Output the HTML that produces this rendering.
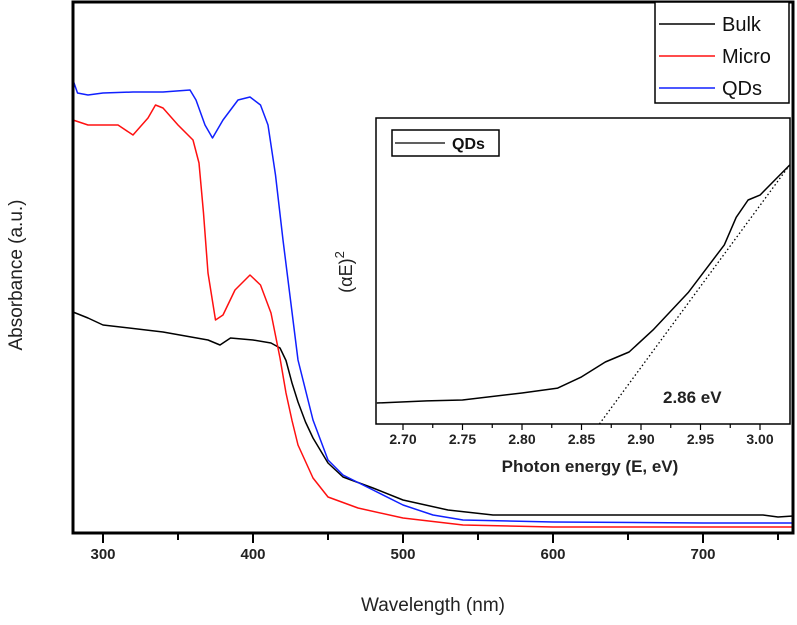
<!DOCTYPE html>
<html><head><meta charset="utf-8"><style>
body{margin:0;background:#fff;}
svg text{font-family:"Liberation Sans",Arial,sans-serif;}
</style></head><body>
<svg width="797" height="620" viewBox="0 0 797 620" xmlns="http://www.w3.org/2000/svg">
<g id="main"></g>
<g id="inset"></g>
</svg>
<script>
// main chart data (absorbance a.u.)
const wlBulk=[280,290,300,340,370,378,385,400,412,418,422,426,430,435,440,450,460,480,500,530,560,700,740,750,760];
const absBulk=[0.442,0.430,0.416,0.402,0.386,0.376,0.390,0.386,0.380,0.370,0.345,0.300,0.262,0.222,0.190,0.140,0.112,0.090,0.066,0.046,0.036,0.036,0.036,0.032,0.034];
const wlMicro=[280,290,300,310,320,330,335,340,350,360,364,367,370,375,380,388,398,405,412,418,422,426,430,440,450,470,500,540,600,760];
const absMicro=[0.826,0.816,0.816,0.816,0.796,0.830,0.856,0.850,0.816,0.786,0.740,0.640,0.520,0.426,0.436,0.486,0.516,0.496,0.440,0.350,0.280,0.225,0.176,0.110,0.072,0.050,0.030,0.016,0.012,0.012];
const wlQD=[280,283,290,300,320,340,358,362,368,373,380,390,398,405,410,415,420,425,430,440,450,460,480,500,520,540,600,700,760];
const absQD=[0.906,0.880,0.876,0.880,0.882,0.882,0.886,0.866,0.816,0.790,0.826,0.866,0.872,0.856,0.816,0.716,0.586,0.466,0.346,0.226,0.146,0.116,0.086,0.056,0.036,0.026,0.022,0.020,0.020];
const xTicks=[300,400,500,600,700];
// inset data
const eInset=[2.678,2.72,2.75,2.80,2.83,2.85,2.87,2.89,2.91,2.94,2.97,2.98,2.99,3.00,3.025];
const aInset=[0.069,0.076,0.079,0.102,0.118,0.155,0.204,0.237,0.309,0.434,0.589,0.680,0.737,0.753,0.852];
const fitE=[2.865,3.025];
const fitA=[0,0.852];
const insetTicks=["2.70","2.75","2.80","2.85","2.90","2.95","3.00"];

const NS="http://www.w3.org/2000/svg";
function mk(p,t,a){const e=document.createElementNS(NS,t);for(const k in a)e.setAttribute(k,a[k]);p.appendChild(e);return e;}
const main=document.getElementById('main'), ins=document.getElementById('inset');
const X=w=>73+(w-280)*1.5, Y=v=>533-v*500;
const IX=e=>403+(e-2.70)*1190, IY=v=>424-v*304;

function line(g,xs,ys,fx,fy,col,name,dash){
  const d=xs.map((x,i)=>(i?'L':'M')+fx(x).toFixed(1)+','+fy(ys[i]).toFixed(1)).join('');
  const p=mk(g,'path',{d:d,fill:'none',stroke:col,'stroke-width':1.5,'stroke-linejoin':'round'});
  if(dash){p.setAttribute('stroke-dasharray','1.5,2.5');p.setAttribute('stroke-width',1.3);}
  
  
}
line(main,wlBulk,absBulk,X,Y,'#000','bulk-line');
line(main,wlQD,absQD,X,Y,'#1020ff','qds-line');
line(main,wlMicro,absMicro,X,Y,'#ff1010','micro-line');

// main frame
const fr=mk(main,'rect',{x:73,y:2,width:720,height:531,fill:'none',stroke:'#000','stroke-width':3});

for(let w=300;w<=750;w+=50){const t=mk(main,'line',{x1:X(w),x2:X(w),y1:533,y2:w%100?540:543,stroke:'#000','stroke-width':2});}
xTicks.forEach(w=>{const t=mk(main,'text',{x:X(w),y:559,'text-anchor':'middle','font-size':15,fill:'#222','font-weight':'bold'});t.textContent=w;});
let t=mk(main,'text',{x:433,y:611,'text-anchor':'middle','font-size':19,fill:'#222'});t.textContent='Wavelength (nm)';
t=mk(main,'text',{x:0,y:0,'text-anchor':'middle','font-size':19,fill:'#222',transform:'translate(22,275) rotate(-90)'});t.textContent='Absorbance (a.u.)';

// legend
const lg=mk(main,'g',{});
mk(lg,'rect',{x:655,y:2,width:134,height:101,fill:'#fff',stroke:'#000','stroke-width':1.5});
[['Bulk','#000',24],['Micro','#ff1010',56],['QDs','#1020ff',88]].forEach(([n,c,y])=>{
  const g=mk(lg,'g',{});
  mk(g,'line',{x1:659,x2:715,y1:y,y2:y,stroke:c,'stroke-width':1.5});
  const tx=mk(g,'text',{x:722,y:y+7,'font-size':20,fill:'#111'});tx.textContent=n;
});

// inset
const ib=mk(ins,'rect',{x:376,y:118,width:414,height:306,fill:'#fff',stroke:'#000','stroke-width':1.5});

line(ins,fitE,fitA,IX,IY,'#000','tauc-fit-line',true);
line(ins,eInset,aInset,IX,IY,'#000','tauc-curve');
for(let e=2.70;e<=3.021;e+=0.025){const tk=mk(ins,'line',{x1:IX(e),x2:IX(e),y1:424,y2:Math.round(e*1000)%50?428:430,stroke:'#000','stroke-width':1.2});}
insetTicks.forEach(s=>{const tx=mk(ins,'text',{x:IX(+s),y:444,'text-anchor':'middle','font-size':14,fill:'#222','font-weight':'bold'});tx.textContent=s;});
t=mk(ins,'text',{x:590,y:472,'text-anchor':'middle','font-size':17,fill:'#222','font-weight':'bold'});t.textContent='Photon energy (E, eV)';
t=mk(ins,'text',{x:0,y:0,'text-anchor':'middle','font-size':18,fill:'#222',transform:'translate(352,272) rotate(-90)'});t.innerHTML='(αE)<tspan dy="-8" font-size="13">2</tspan>';
t=mk(ins,'text',{x:663,y:403,'font-size':17,fill:'#222','font-weight':'bold'});t.textContent='2.86 eV';
const il=mk(ins,'g',{});
mk(il,'rect',{x:392,y:130,width:107,height:26,fill:'#fff',stroke:'#000','stroke-width':1.5});
mk(il,'line',{x1:395,x2:445,y1:143,y2:143,stroke:'#000','stroke-width':1.3});
const lt=mk(il,'text',{x:452,y:149,'font-size':16,fill:'#111','font-weight':'bold'});lt.textContent='QDs';
</script>
</body></html>
